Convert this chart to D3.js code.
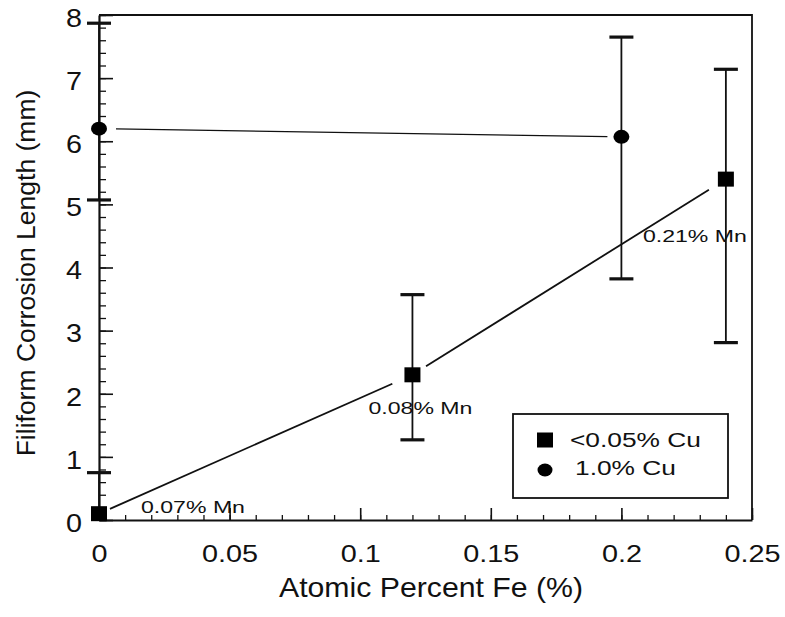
<!DOCTYPE html>
<html>
<head>
<meta charset="utf-8">
<script src="https://cdn.jsdelivr.net/npm/d3@7/dist/d3.min.js"></script>
<style>
  html, body { margin: 0; padding: 0; background: #fff; }
  svg { display: block; }
  text { font-family: "Liberation Sans", Arial, Helvetica, sans-serif; fill: #111; }
</style>
</head>
<body>
<script>
// ---- data ----
const lowCuLabel = "<0.05% Cu";
const lowCuFe = [0, 0.12, 0.24];
const lowCuLength = [0.1, 2.3, 5.4];
const lowCuErrTop = [0.75, 3.57, 7.14];
const lowCuErrBottom = [null, 1.27, 2.81];
const lowCuMn = ["0.07% Mn", "0.08% Mn", "0.21% Mn"];

const highCuLabel = "1.0% Cu";
const highCuFe = [0, 0.2];
const highCuLength = [6.2, 6.07];
const highCuErrTop = [7.87, 7.65];
const highCuErrBottom = [5.07, 3.82];

const xTicks = [0, 0.05, 0.1, 0.15, 0.2, 0.25];
const yTicks = [0, 1, 2, 3, 4, 5, 6, 7, 8];
const xTitle = "Atomic Percent Fe (%)";
const yTitle = "Filiform Corrosion Length (mm)";

// ---- layout ----
const W = 785, H = 617;
const pLeft = 99, pRight = 752, pTop = 15, pBottom = 520;

const svg = d3.select("body").append("svg").attr("width", W).attr("height", H);

const x = d3.scaleLinear().domain([0, 0.25]).range([pLeft, pRight]);
const y = d3.scaleLinear().domain([0, 8]).range([pBottom, pTop]);

// frame (top & right)
svg.append("path")
  .attr("d", `M${pLeft},${pTop}H${pRight}V${pBottom}`)
  .attr("fill", "none").attr("stroke", "#111").attr("stroke-width", 1.8);

// minor ticks
svg.append("g").attr("transform", `translate(${pLeft},0)`)
  .call(d3.axisLeft(y).tickValues(d3.range(0, 41).map(i => i * 0.2)).tickSize(-7).tickSizeOuter(0).tickFormat(""))
  .call(g => g.select(".domain").remove())
  .selectAll("line").attr("stroke", "#111").attr("stroke-width", 1.3);
svg.append("g").attr("transform", `translate(0,${pBottom})`)
  .call(d3.axisBottom(x).tickValues(d3.range(0, 26).map(i => i * 0.01)).tickSize(-5).tickSizeOuter(0).tickFormat(""))
  .call(g => g.select(".domain").remove())
  .selectAll("line").attr("stroke", "#111").attr("stroke-width", 1.3);

// major axes
const yAxis = svg.append("g").attr("transform", `translate(${pLeft},0)`)
  .call(d3.axisLeft(y).tickValues(yTicks).tickSize(-14).tickSizeOuter(0).tickPadding(16).tickFormat(d3.format("d")));
const xAxis = svg.append("g").attr("transform", `translate(0,${pBottom})`)
  .call(d3.axisBottom(x).tickValues(xTicks).tickSize(-12).tickSizeOuter(0).tickPadding(24).tickFormat(d => d === 0 ? "0" : String(d)));

[yAxis, xAxis].forEach(a => {
  a.select(".domain").attr("stroke", "#111").attr("stroke-width", 2.2);
  a.selectAll(".tick line").attr("stroke", "#111").attr("stroke-width", 1.6);
});
yAxis.selectAll(".tick text")
  .attr("font-size", 25).attr("fill", "#111")
  .each(function() {
    const t = d3.select(this);
    const tx = +t.attr("x");
    t.attr("x", 0).attr("dy", "0.45em").attr("transform", `translate(${tx - 1},0) scale(1.15,1)`);
  });
xAxis.selectAll(".tick text")
  .attr("font-size", 24).attr("fill", "#111")
  .each(function() {
    const t = d3.select(this);
    t.attr("y", 0).attr("dy", "0").attr("transform", `translate(0,42) scale(1.2,1)`);
  });

// axis titles
svg.append("text").attr("transform", `translate(431,597) scale(1.08,1)`)
  .attr("text-anchor", "middle").attr("font-size", 28).text(xTitle);
svg.append("text").attr("transform", `translate(35,273) rotate(-90)`)
  .attr("text-anchor", "middle").attr("font-size", 26.5).text(yTitle);

// connecting lines with gaps near markers
function gappedLine(xs, ys, trims, width) {
  for (let i = 0; i < xs.length - 1; i++) {
    const x1 = x(xs[i]), y1 = y(ys[i]), x2 = x(xs[i + 1]), y2 = y(ys[i + 1]);
    const d = Math.hypot(x2 - x1, y2 - y1), ux = (x2 - x1) / d, uy = (y2 - y1) / d;
    const [a, b] = trims[i];
    svg.append("line")
      .attr("x1", x1 + ux * a).attr("y1", y1 + uy * a)
      .attr("x2", x2 - ux * b).attr("y2", y2 - uy * b)
      .attr("stroke", "#111").attr("stroke-width", width);
  }
}
gappedLine(lowCuFe, lowCuLength, [[12, 22], [16, 20]], 1.8);
gappedLine(highCuFe, highCuLength, [[17, 14]], 1.3);

// error bars
function errorBars(xs, tops, bottoms, ys) {
  xs.forEach((v, i) => {
    const cx = x(v);
    const lo = bottoms[i] === null ? ys[i] : bottoms[i];
    svg.append("line").attr("x1", cx).attr("x2", cx)
      .attr("y1", y(tops[i])).attr("y2", y(lo))
      .attr("stroke", "#111").attr("stroke-width", 1.8);
    [tops[i], bottoms[i]].forEach(c => {
      if (c === null) return;
      svg.append("line").attr("x1", cx - 12).attr("x2", cx + 12)
        .attr("y1", y(c)).attr("y2", y(c))
        .attr("stroke", "#111").attr("stroke-width", 3.2);
    });
  });
}
errorBars(lowCuFe, lowCuErrTop, lowCuErrBottom, lowCuLength);
errorBars(highCuFe, highCuErrTop, highCuErrBottom, highCuLength);

// markers
svg.selectAll("rect.low").data(lowCuFe).enter().append("rect").attr("class", "low")
  .attr("x", (d) => x(d) - 8).attr("y", (d, i) => y(lowCuLength[i]) - 7.5)
  .attr("width", 16).attr("height", 15).attr("fill", "#000");
svg.selectAll("ellipse.high").data(highCuFe).enter().append("ellipse").attr("class", "high")
  .attr("cx", (d) => x(d)).attr("cy", (d, i) => y(highCuLength[i]))
  .attr("rx", 8).attr("ry", 7).attr("fill", "#000");

// Mn annotations
const mnOffsets = [[42, -1], [-44, 39], [-83, 63]];
lowCuMn.forEach((t, i) => {
  const px = x(lowCuFe[i]) + mnOffsets[i][0], py = y(lowCuLength[i]) + mnOffsets[i][1];
  svg.append("text").attr("transform", `translate(${px},${py}) scale(1.4,1)`)
    .attr("font-size", 16.5).text(t);
});

// legend
const lg = svg.append("g").attr("transform", "translate(513,414)");
lg.append("rect").attr("width", 215).attr("height", 84)
  .attr("fill", "#fff").attr("stroke", "#111").attr("stroke-width", 1.8);
lg.append("rect").attr("x", 24).attr("y", 18.5).attr("width", 16).attr("height", 15).attr("fill", "#000");
lg.append("ellipse").attr("cx", 32).attr("cy", 56).attr("rx", 7.5).attr("ry", 6.5).attr("fill", "#000");
lg.append("text").attr("transform", "translate(57,33) scale(1.35,1)").attr("font-size", 19.5).text(lowCuLabel);
lg.append("text").attr("transform", "translate(62,61) scale(1.35,1)").attr("font-size", 19.5).text(highCuLabel);
</script>
</body>
</html>
